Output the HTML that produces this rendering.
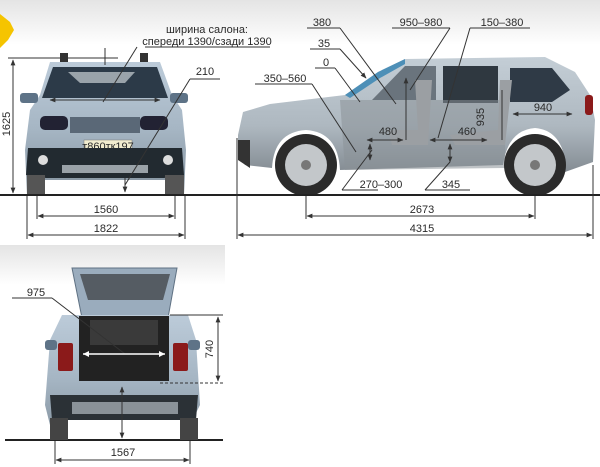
<!DOCTYPE html>
<html><head><meta charset="utf-8"><style>
html,body{margin:0;padding:0;background:#fff}
svg{display:block}
text{font-family:"Liberation Sans","DejaVu Sans",sans-serif;fill:#2a2a2a;font-size:11px}
</style></head><body>
<svg width="600" height="467" viewBox="0 0 600 467" xmlns="http://www.w3.org/2000/svg">
<defs>
<linearGradient id="bg" x1="0" y1="0" x2="0" y2="1"><stop offset="0" stop-color="#e4e4e4"/><stop offset="1" stop-color="#fff"/></linearGradient>
<linearGradient id="body" x1="0" y1="0" x2="0" y2="1"><stop offset="0" stop-color="#bccbd9"/><stop offset="0.5" stop-color="#a6b6c4"/><stop offset="1" stop-color="#84929e"/></linearGradient>
<linearGradient id="side" x1="0" y1="0" x2="0" y2="1"><stop offset="0" stop-color="#c4ced6"/><stop offset="0.6" stop-color="#aeb8c0"/><stop offset="1" stop-color="#848c93"/></linearGradient>
<marker id="a" viewBox="0 0 10 10" refX="9" refY="5" markerWidth="6" markerHeight="6" orient="auto-start-reverse"><path d="M0,1 L10,5 L0,9 z" fill="#333"/></marker>
</defs>
<rect width="600" height="467" fill="#fff"/>
<rect width="600" height="45" fill="url(#bg)"/>
<rect x="0" y="245" width="225" height="40" fill="url(#bg)"/>
<path d="M0,14 L10,22 L14,30 L8,40 L0,48 z" fill="#f5c400"/>

<!-- FRONT CAR -->
<rect x="60" y="53" width="8" height="10" fill="#333"/><rect x="140" y="53" width="8" height="10" fill="#333"/>
<path d="M50,62 L160,62 L172,95 L182,110 L186,150 L184,195 L165,195 L165,180 L45,180 L45,195 L27,195 L25,150 L30,110 L40,95 z" fill="url(#body)"/>
<path d="M53,67 L157,67 L168,98 L42,98 z" fill="#2c3a48"/>
<path d="M68,72 L135,72 L125,83 L80,83 z" fill="#9aa3aa"/>
<rect x="20" y="93" width="18" height="10" rx="3" fill="#5e7387"/><rect x="170" y="93" width="18" height="10" rx="3" fill="#5e7387"/>
<rect x="40" y="116" width="28" height="14" rx="5" fill="#223"/><rect x="140" y="116" width="28" height="14" rx="5" fill="#223"/>
<rect x="70" y="117" width="70" height="16" fill="#5a6877"/>
<rect x="84" y="140" width="48" height="12" fill="#f1eccf" stroke="#777" stroke-width="0.5"/>
<text x="108" y="150" font-size="9" text-anchor="middle" fill="#111">т860тк197</text>
<path d="M28,148 L182,148 L184,175 L164,178 L46,178 L26,175 z" fill="#222a30"/>
<rect x="62" y="165" width="86" height="8" fill="#9aa2a8"/>
<circle cx="43" cy="160" r="5" fill="#ddd"/><circle cx="168" cy="160" r="5" fill="#ddd"/>
<rect x="27" y="175" width="18" height="20" fill="#555"/><rect x="165" y="175" width="19" height="20" fill="#555"/>

<!-- SIDE CAR -->
<path d="M238,135 L243,112 L270,104 L345,95 L378,72 L405,59 L545,57 L575,72 L590,95 L595,120 L593,162 L565,172 L565,160 Q560,130 535,128 Q508,130 503,165 L340,170 Q338,132 306,130 Q274,132 272,168 L245,165 L238,155 z" fill="url(#side)"/>
<path d="M345,95 L378,72 L405,59 L405,64 L380,78 L350,98 z" fill="#4d8fb7"/>
<path d="M405,66 L436,66 L436,100 L372,100 z" fill="#6a747d"/>
<rect x="443" y="66" width="55" height="37" fill="#2f3840"/>
<path d="M510,68 L552,68 L570,90 L552,102 L510,102 z" fill="#2f3a46"/>
<path d="M340,100 L505,100 L505,168 L345,170 z" fill="#8b9298" opacity="0.55"/>
<path d="M415,80 L432,80 L428,145 L392,145 L388,130 L418,130 z" fill="#9b9fa3"/>
<path d="M500,80 L512,80 L505,145 L455,145 L450,135 L498,130 z" fill="#9b9fa3"/>
<path d="M238,140 L250,140 L250,168 L238,160 z" fill="#333"/>
<circle cx="306" cy="165" r="31" fill="#2b2b2b"/><circle cx="306" cy="165" r="21" fill="#c3c7ca"/><circle cx="306" cy="165" r="5" fill="#777"/>
<circle cx="535" cy="165" r="31" fill="#2b2b2b"/><circle cx="535" cy="165" r="21" fill="#c3c7ca"/><circle cx="535" cy="165" r="5" fill="#777"/>
<rect x="585" y="95" width="8" height="20" rx="3" fill="#8b1a1a"/>

<!-- ground lines -->
<rect x="0" y="194" width="600" height="2" fill="#222"/>
<rect x="5" y="439" width="218" height="2" fill="#222"/>

<g stroke="#333" stroke-width="1" fill="none">
<line x1="8" y1="58" x2="118" y2="58"/>
<line x1="13" y1="60" x2="13" y2="193" marker-start="url(#a)" marker-end="url(#a)"/>
<line x1="37" y1="196" x2="37" y2="219"/><line x1="175" y1="196" x2="175" y2="219"/>
<line x1="27" y1="196" x2="27" y2="239"/><line x1="185" y1="196" x2="185" y2="239"/>
<line x1="38" y1="216" x2="174" y2="216" marker-start="url(#a)" marker-end="url(#a)"/>
<line x1="28" y1="235" x2="184" y2="235" marker-start="url(#a)" marker-end="url(#a)"/>
<line x1="145" y1="47" x2="270" y2="47"/><line x1="137" y1="47" x2="103" y2="102"/>
<line x1="105" y1="48" x2="105" y2="65"/>
<line x1="50" y1="100" x2="160" y2="100" marker-start="url(#a)" marker-end="url(#a)"/>
<line x1="190" y1="79" x2="220" y2="79"/><line x1="190" y1="79" x2="125" y2="185"/>
<line x1="125" y1="178" x2="125" y2="192" marker-end="url(#a)"/>
<line x1="237" y1="138" x2="237" y2="239"/><line x1="593" y1="165" x2="593" y2="239"/>
<line x1="306" y1="196" x2="306" y2="219"/><line x1="535" y1="196" x2="535" y2="219"/>
<line x1="307" y1="216" x2="534" y2="216" marker-start="url(#a)" marker-end="url(#a)"/>
<line x1="238" y1="235" x2="592" y2="235" marker-start="url(#a)" marker-end="url(#a)"/>
<line x1="307" y1="28" x2="340" y2="28"/><line x1="340" y1="28" x2="396" y2="104"/>
<line x1="310" y1="49" x2="340" y2="49"/><line x1="340" y1="49" x2="366" y2="78" marker-end="url(#a)"/>
<line x1="315" y1="68" x2="335" y2="68"/><line x1="335" y1="68" x2="360" y2="102"/>
<line x1="255" y1="84" x2="312" y2="84"/><line x1="312" y1="84" x2="356" y2="152"/>
<line x1="392" y1="28" x2="450" y2="28"/><line x1="450" y1="28" x2="410" y2="90"/>
<line x1="470" y1="28" x2="530" y2="28"/><line x1="470" y1="28" x2="438" y2="138"/>
<line x1="406" y1="140" x2="406" y2="78" marker-end="url(#a)"/>
<line x1="502" y1="90" x2="502" y2="140"/>
<line x1="367" y1="140" x2="403" y2="140" marker-start="url(#a)" marker-end="url(#a)"/>
<line x1="430" y1="140" x2="487" y2="140" marker-start="url(#a)" marker-end="url(#a)"/>
<line x1="513" y1="114" x2="572" y2="114" marker-start="url(#a)" marker-end="url(#a)"/>
<line x1="370" y1="144" x2="370" y2="160" marker-start="url(#a)" marker-end="url(#a)"/>
<line x1="450" y1="144" x2="450" y2="162" marker-start="url(#a)" marker-end="url(#a)"/>
<line x1="342" y1="190" x2="378" y2="190"/><line x1="342" y1="190" x2="372" y2="150"/>
<line x1="425" y1="190" x2="470" y2="190"/><line x1="425" y1="190" x2="450" y2="162"/>
</g>

<!-- REAR CAR -->
<path d="M72,268 L177,268 L168,318 L82,318 z" fill="#9aacbd" stroke="#5f7183"/>
<path d="M80,274 L170,274 L163,300 L88,300 z" fill="#555c63"/>
<path d="M62,315 L188,315 L196,340 L200,405 L190,425 L180,425 L180,440 L198,440 L198,420 L52,420 L52,440 L68,440 L68,425 L50,425 L45,405 L50,340 z" fill="url(#body)"/>
<rect x="79" y="316" width="90" height="65" fill="#222"/>
<path d="M90,320 L158,320 L158,345 L90,345 z" fill="#3a3a3a"/>
<rect x="58" y="343" width="15" height="28" rx="2" fill="#8b1a1a"/><rect x="173" y="343" width="15" height="28" rx="2" fill="#8b1a1a"/>
<rect x="45" y="340" width="12" height="10" rx="3" fill="#5e7387"/><rect x="188" y="340" width="12" height="10" rx="3" fill="#5e7387"/>
<path d="M50,395 L198,395 L196,420 L52,420 z" fill="#2b3136"/>
<rect x="72" y="402" width="106" height="12" fill="#8a9298"/>
<rect x="50" y="418" width="18" height="22" fill="#444"/><rect x="180" y="418" width="18" height="22" fill="#444"/>
<g stroke="#333" stroke-width="1" fill="none">
<line x1="12" y1="298" x2="52" y2="298"/><line x1="52" y1="298" x2="125" y2="354"/>
<line x1="83" y1="354" x2="165" y2="354" stroke="#fff" stroke-width="1.5"/>
<line x1="170" y1="315" x2="223" y2="315"/>
<line x1="160" y1="383" x2="223" y2="383" stroke-dasharray="3,2"/>
<line x1="218" y1="317" x2="218" y2="381" marker-start="url(#a)" marker-end="url(#a)"/>
<line x1="122" y1="387" x2="122" y2="438" marker-start="url(#a)" marker-end="url(#a)"/>
<line x1="55" y1="441" x2="55" y2="464"/><line x1="190" y1="441" x2="190" y2="464"/>
<line x1="56" y1="460" x2="189" y2="460" marker-start="url(#a)" marker-end="url(#a)"/>
</g>
<path d="M83,354 l6,-3 v6 z M165,354 l-6,-3 v6 z" fill="#fff"/>

<text x="207" y="33" text-anchor="middle">ширина салона:</text>
<text x="207" y="45" text-anchor="middle">спереди 1390/сзади 1390</text>
<text x="205" y="75" text-anchor="middle">210</text>
<text x="10" y="124" transform="rotate(-90 10 124)" text-anchor="middle">1625</text>
<text x="106" y="213" text-anchor="middle">1560</text>
<text x="106" y="232" text-anchor="middle">1822</text>
<text x="322" y="26" text-anchor="middle">380</text>
<text x="324" y="47" text-anchor="middle">35</text>
<text x="326" y="66" text-anchor="middle">0</text>
<text x="285" y="82" text-anchor="middle">350–560</text>
<text x="421" y="26" text-anchor="middle">950–980</text>
<text x="502" y="26" text-anchor="middle">150–380</text>
<text x="543" y="111" text-anchor="middle">940</text>
<text x="484" y="117" transform="rotate(-90 484 117)" text-anchor="middle">935</text>
<text x="388" y="135" text-anchor="middle">480</text>
<text x="467" y="135" text-anchor="middle">460</text>
<text x="381" y="188" text-anchor="middle">270–300</text>
<text x="451" y="188" text-anchor="middle">345</text>
<text x="422" y="213" text-anchor="middle">2673</text>
<text x="422" y="232" text-anchor="middle">4315</text>
<text x="36" y="296" text-anchor="middle">975</text>
<text x="213" y="349" transform="rotate(-90 213 349)" text-anchor="middle">740</text>
<text x="123" y="456" text-anchor="middle">1567</text>
</svg>
</body></html>
